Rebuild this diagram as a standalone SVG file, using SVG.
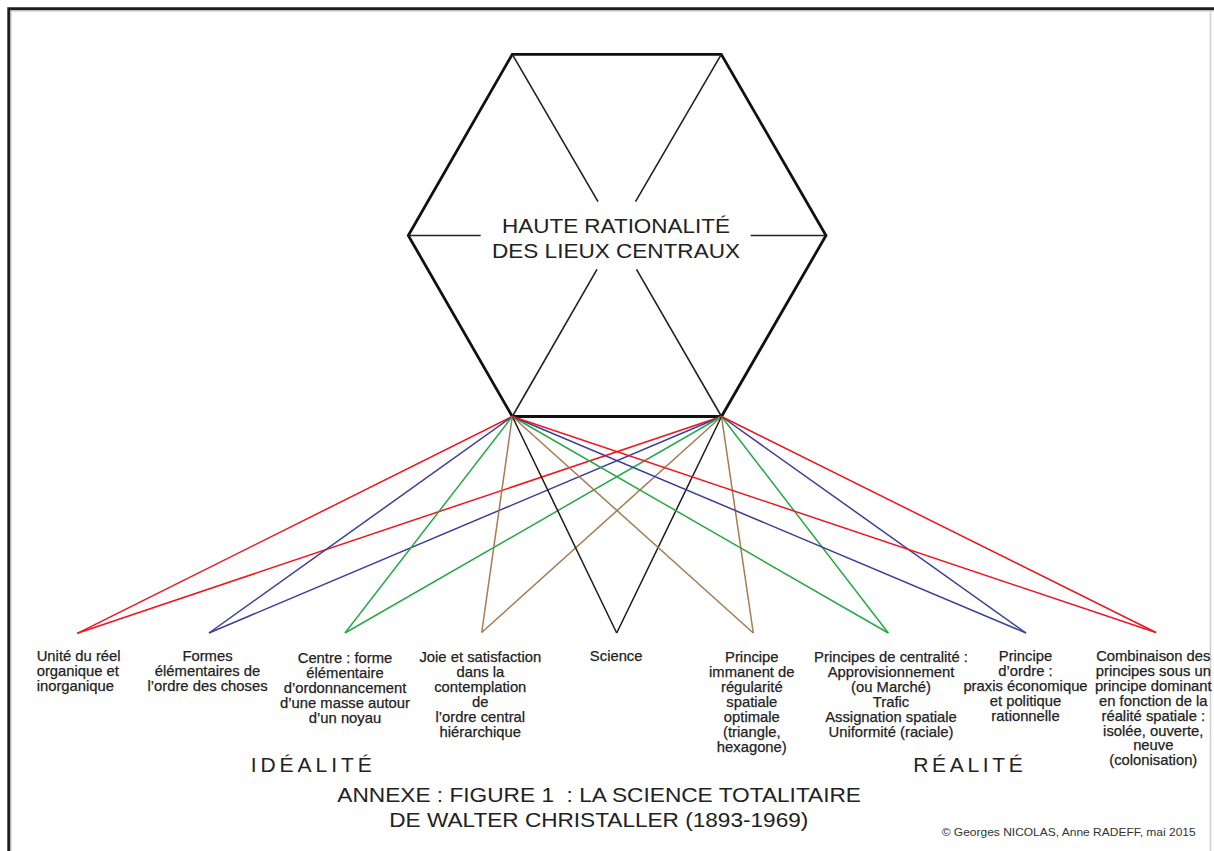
<svg xmlns="http://www.w3.org/2000/svg" width="1214" height="851" viewBox="0 0 1214 851">
<style>
.lbl{font-family:"Liberation Sans",Arial,sans-serif;font-size:14.8px;fill:#222;text-anchor:middle;stroke:#222;stroke-width:0.25}
.lft{text-anchor:start}
.big{font-family:"Liberation Sans",Arial,sans-serif;font-size:21px;fill:#222}
.hx{font-family:"Liberation Sans",Arial,sans-serif;font-size:20px;fill:#222}
.red{stroke:#f0141e}
.blue{stroke:#3a3f98}
.green{stroke:#27a846}
.brown{stroke:#a87a52}
.black{stroke:#1a1a1a}
#connectors line{stroke-width:1.5;fill:none}
</style>
<rect width="1214" height="851" fill="#fff"/>
<g id="frame" fill="none">
<path d="M8.8 851 V8.8 H1214" stroke="#1e1e1e" stroke-width="3"/>
<path d="M11 851 V11 H1214" stroke="#b0b0b0" stroke-width="0.8"/>
<path d="M1210.5 12 V851" stroke="#cfcfcf" stroke-width="1.5"/>
</g>
<g id="hexagon">
<polygon points="512.3,54.3 721.3,54.3 826,235.5 721.5,416.5 512.3,416.5 408.3,235.5" fill="none" stroke="#111" stroke-width="2.8" stroke-linejoin="miter"/>
<g stroke="#222" stroke-width="1.6">
<line x1="512.3" y1="54.3" x2="598" y2="201.7"/>
<line x1="636.5" y1="269.3" x2="721.5" y2="416.5"/>
<line x1="721.3" y1="54.3" x2="635.5" y2="201.7"/>
<line x1="597" y1="269.3" x2="512.3" y2="416.5"/>
<line x1="408.3" y1="235.5" x2="480.7" y2="235.5"/>
<line x1="750.7" y1="235.5" x2="826" y2="235.5"/>
</g>
<text class="hx" x="502" y="233.3" textLength="228" lengthAdjust="spacingAndGlyphs">HAUTE RATIONALITÉ</text>
<text class="hx" x="492" y="258" textLength="248" lengthAdjust="spacingAndGlyphs">DES LIEUX CENTRAUX</text>
</g>
<g id="connectors">
<line class="red" x1="512.3" y1="416.5" x2="77.3" y2="633.3"/>
<line class="red" x1="721.5" y1="416.5" x2="77.3" y2="633.3"/>
<line class="blue" x1="512.3" y1="416.5" x2="209" y2="633"/>
<line class="blue" x1="721.5" y1="416.5" x2="209" y2="633"/>
<line class="green" x1="512.3" y1="416.5" x2="345" y2="633"/>
<line class="green" x1="721.5" y1="416.5" x2="345" y2="633"/>
<line class="brown" x1="512.3" y1="416.5" x2="481.7" y2="632.5"/>
<line class="brown" x1="721.5" y1="416.5" x2="481.7" y2="632.5"/>
<line class="black" x1="512.3" y1="416.5" x2="616.7" y2="633"/>
<line class="black" x1="721.5" y1="416.5" x2="616.7" y2="633"/>
<line class="brown" x1="512.3" y1="416.5" x2="753.3" y2="633"/>
<line class="brown" x1="721.5" y1="416.5" x2="753.3" y2="633"/>
<line class="green" x1="512.3" y1="416.5" x2="888.3" y2="633"/>
<line class="green" x1="721.5" y1="416.5" x2="888.3" y2="633"/>
<line class="blue" x1="512.3" y1="416.5" x2="1026" y2="633"/>
<line class="blue" x1="721.5" y1="416.5" x2="1026" y2="633"/>
<line class="red" x1="512.3" y1="416.5" x2="1156" y2="632.5"/>
<line class="red" x1="721.5" y1="416.5" x2="1156" y2="632.5"/>
</g>
<g id="n-unite"><text class="lbl lft" x="36.7" y="661"><tspan x="36.7">Unité du réel</tspan><tspan x="36.7" dy="15">organique et</tspan><tspan x="36.7" dy="15">inorganique</tspan></text></g>
<g id="n-formes"><text class="lbl" x="207.5" y="661"><tspan x="207.5">Formes</tspan><tspan x="207.5" dy="15">élémentaires de</tspan><tspan x="207.5" dy="15">l’ordre des choses</tspan></text></g>
<g id="n-centre"><text class="lbl" x="345" y="663.3"><tspan x="345">Centre : forme</tspan><tspan x="345" dy="15">élémentaire</tspan><tspan x="345" dy="15">d’ordonnancement</tspan><tspan x="345" dy="15">d’une masse autour</tspan><tspan x="345" dy="15">d’un noyau</tspan></text></g>
<g id="n-joie"><text class="lbl" x="480.3" y="661.5"><tspan x="480.3">Joie et satisfaction</tspan><tspan x="480.3" dy="15">dans la</tspan><tspan x="480.3" dy="15">contemplation</tspan><tspan x="480.3" dy="15">de</tspan><tspan x="480.3" dy="15">l’ordre central</tspan><tspan x="480.3" dy="15">hiérarchique</tspan></text></g>
<g id="n-science"><text class="lbl" x="616.2" y="661">Science</text></g>
<g id="n-principe-immanent"><text class="lbl" x="751.8" y="661.5"><tspan x="751.8">Principe</tspan><tspan x="751.8" dy="15">immanent de</tspan><tspan x="751.8" dy="15">régularité</tspan><tspan x="751.8" dy="15">spatiale</tspan><tspan x="751.8" dy="15">optimale</tspan><tspan x="751.8" dy="15">(triangle,</tspan><tspan x="751.8" dy="15">hexagone)</tspan></text></g>
<g id="n-centralite"><text class="lbl" x="891" y="661.5"><tspan x="891">Principes de centralité :</tspan><tspan x="891" dy="15">Approvisionnement</tspan><tspan x="891" dy="15">(ou Marché)</tspan><tspan x="891" dy="15">Trafic</tspan><tspan x="891" dy="15">Assignation spatiale</tspan><tspan x="891" dy="15">Uniformité (raciale)</tspan></text></g>
<g id="n-ordre"><text class="lbl" x="1025.5" y="660.5"><tspan x="1025.5">Principe</tspan><tspan x="1025.5" dy="15">d’ordre :</tspan><tspan x="1025.5" dy="15">praxis économique</tspan><tspan x="1025.5" dy="15">et politique</tspan><tspan x="1025.5" dy="15">rationnelle</tspan></text></g>
<g id="n-combinaison"><text class="lbl" x="1153.3" y="661"><tspan x="1153.3">Combinaison des</tspan><tspan x="1153.3" dy="14.9">principes sous un</tspan><tspan x="1153.3" dy="14.9">principe dominant</tspan><tspan x="1153.3" dy="14.9">en fonction de la</tspan><tspan x="1153.3" dy="14.9">réalité spatiale :</tspan><tspan x="1153.3" dy="14.9">isolée, ouverte,</tspan><tspan x="1153.3" dy="14.9">neuve</tspan><tspan x="1153.3" dy="14.9">(colonisation)</tspan></text></g>
<g id="headings">
<text class="big" x="250.7" y="772.3" textLength="121" lengthAdjust="spacing">IDÉALITÉ</text>
<text class="big" x="913.3" y="772.3" textLength="109.4" lengthAdjust="spacing">RÉALITÉ</text>
<text class="big" x="337.3" y="801.7" textLength="523.7" lengthAdjust="spacingAndGlyphs">ANNEXE : FIGURE 1&#160; : LA SCIENCE TOTALITAIRE</text>
<text class="big" x="389.3" y="826.7" textLength="419" lengthAdjust="spacingAndGlyphs">DE WALTER CHRISTALLER (1893-1969)</text>
<text x="941.7" y="835.7" textLength="254" lengthAdjust="spacingAndGlyphs" style="font-family:'Liberation Sans',Arial,sans-serif;font-size:11px;fill:#333">© Georges NICOLAS, Anne RADEFF, mai 2015</text>
</g>
</svg>
